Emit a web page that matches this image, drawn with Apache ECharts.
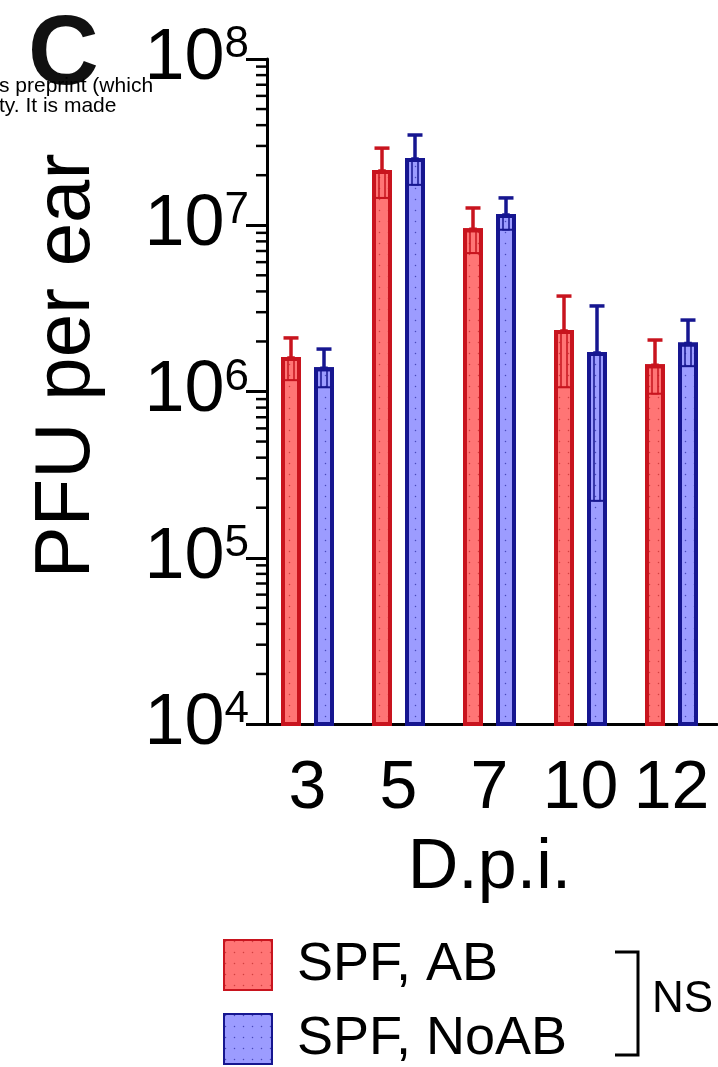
<!DOCTYPE html>
<html><head><meta charset="utf-8">
<script src="https://cdn.jsdelivr.net/npm/echarts@6/dist/echarts.min.js"></script>
<style>html,body{margin:0;padding:0;background:#fff}#c{width:718px;height:1067px}</style>
</head><body><div id="c"></div>
<script>
// ---- data ----
const categories = ['3', '5', '7', '10', '12'];
const seriesNames = ['SPF, AB', 'SPF, NoAB'];
const abMean  = [1.61e6, 2.15e7, 9.6e6, 2.34e6, 1.46e6];
const abUpper = [2.10e6, 2.91e7, 1.27e7, 3.75e6, 2.04e6];
const abLower = [1.17e6, 1.46e7, 6.8e6, 1.06e6, 9.7e5];
const noabMean  = [1.40e6, 2.54e7, 1.17e7, 1.73e6, 1.97e6];
const noabUpper = [1.80e6, 3.49e7, 1.46e7, 3.27e6, 2.69e6];
const noabLower = [1.06e6, 1.75e7, 9.4e6, 2.2e5, 1.42e6];
const yMin = 1e4, yMax = 1e8;
const minorMantissas = [2, 3, 4, 5, 6, 7, 8, 9];
const minorDecades = [1e4, 1e5, 1e6, 1e7];
const xAxisTitle = 'D.p.i.';
const yAxisTitle = 'PFU per ear';
const panelLetter = 'C';
const watermarkLines = ['s preprint (which', 'ty. It is made'];
const sigLabel = 'NS';

// ---- style ----
const FONT = "'Liberation Sans', Arial, Helvetica, sans-serif";
const RED = '#c8141e', RED_FILL = '#ff7575';
const BLUE = '#161690', BLUE_FILL = '#9c9cff';
const BAR_W = 20, BAR_GAP = '65%';
const OFF = 16.5;

const minorTickValues = [];
minorDecades.forEach(d => minorMantissas.forEach(m => minorTickValues.push(m * d)));

function errRender(offset, color) {
  return function (params, api) {
    const i = api.value(0);
    const top = api.coord([i, api.value(1)]);
    const lo = api.coord([i, api.value(2)]);
    const up = api.coord([i, api.value(3)]);
    const cx = top[0] + offset;
    return {
      type: 'group',
      children: [
        { type: 'rect', shape: { x: cx - 3, y: top[1], width: 6, height: lo[1] - top[1] },
          style: { fill: null, stroke: color, lineWidth: 1.5 } },
        { type: 'line', shape: { x1: cx - 10, y1: lo[1], x2: cx + 10, y2: lo[1] },
          style: { stroke: color, lineWidth: 2 } },
        { type: 'line', shape: { x1: cx, y1: up[1], x2: cx, y2: top[1] },
          style: { stroke: color, lineWidth: 3.5 } },
        { type: 'line', shape: { x1: cx - 7.5, y1: up[1], x2: cx + 7.5, y2: up[1] },
          style: { stroke: color, lineWidth: 3.5 } }
      ]
    };
  };
}

const chart = echarts.init(document.getElementById('c'), null, { renderer: 'canvas' });
const option = {
  backgroundColor: '#fff',
  animation: false,
  textStyle: { fontFamily: FONT },
  grid: { left: 262, right: 1, top: 59, bottom: 343, containLabel: false },
  legend: {
    data: seriesNames,
    orient: 'vertical',
    left: 223, top: 938,
    padding: 0,
    icon: 'rect',
    itemWidth: 48, itemHeight: 50, itemGap: 20,
    textStyle: { fontSize: 54, color: '#000', fontFamily: FONT, padding: [0, 0, 0, 20] },
    selectedMode: false
  },
  xAxis: {
    type: 'category',
    data: categories,
    axisLine: { lineStyle: { color: '#000', width: 3 } },
    axisTick: { alignWithLabel: true, length: 8, lineStyle: { color: '#000', width: 3 } },
    axisLabel: { interval: 0, hideOverlap: false, fontSize: 68, lineHeight: 68, color: '#000', margin: 31, fontFamily: FONT },
    name: xAxisTitle,
    nameLocation: 'middle',
    nameGap: 110,
    nameTextStyle: { fontSize: 70, lineHeight: 70, color: '#000', fontFamily: FONT }
  },
  yAxis: {
    type: 'log',
    logBase: 10,
    min: yMin, max: yMax,
    offset: -5,
    splitLine: { show: false },
    axisLine: { show: true, lineStyle: { color: '#000', width: 3 } },
    axisTick: { show: true, length: 21, lineStyle: { color: '#000', width: 3 } },
    axisLabel: {
      margin: 18,
      formatter: v => '{b|10}{s|' + Math.round(Math.log10(v)) + '}',
      rich: {
        b: { fontSize: 72, lineHeight: 72, color: '#000', fontFamily: FONT },
        s: { fontSize: 44, lineHeight: 44, color: '#000', verticalAlign: 'top', fontFamily: FONT }
      }
    }
  },
  graphic: [
    { type: 'text', left: 28, top: 8, z: 1,
      style: { text: panelLetter, font: 'bold 98px ' + FONT, fill: '#111' } },
    { type: 'text', x: -1, y: 86, z: 2,
      style: { text: watermarkLines[0], font: '21px ' + FONT, fill: '#000', textVerticalAlign: 'middle' } },
    { type: 'text', x: -1, y: 106, z: 2,
      style: { text: watermarkLines[1], font: '21px ' + FONT, fill: '#000', textVerticalAlign: 'middle' } },
    { type: 'text', x: 67, y: 366, rotation: Math.PI / 2,
      style: { text: yAxisTitle, font: '78px ' + FONT, fill: '#000', textAlign: 'center', textVerticalAlign: 'middle' } },
    { type: 'polyline', shape: { points: [[615, 952], [638, 952], [638, 1055], [615, 1055]] },
      style: { stroke: '#000', lineWidth: 3, fill: null } },
    { type: 'text', x: 652, y: 1000,
      style: { text: sigLabel, font: '44px ' + FONT, fill: '#000', textVerticalAlign: 'middle' } }
  ],
  series: [
    {
      name: seriesNames[0], type: 'bar', data: abMean,
      barWidth: BAR_W, barGap: BAR_GAP,
      itemStyle: {
        color: RED_FILL, borderColor: RED, borderWidth: 4,
        decal: { symbol: 'circle', symbolSize: 0.5, dashArrayX: [3, 6], dashArrayY: [3, 8], color: 'rgba(170,20,20,0.55)' }
      },
      z: 2
    },
    {
      name: seriesNames[1], type: 'bar', data: noabMean,
      barWidth: BAR_W, barGap: BAR_GAP,
      itemStyle: {
        color: BLUE_FILL, borderColor: BLUE, borderWidth: 4,
        decal: { symbol: 'circle', symbolSize: 0.5, dashArrayX: [3, 6], dashArrayY: [3, 8], color: 'rgba(20,20,140,0.6)' }
      },
      z: 2
    },
    {
      name: 'errAB', type: 'custom', z: 5, silent: true,
      data: categories.map((c, i) => [i, abMean[i], abLower[i], abUpper[i]]),
      renderItem: errRender(-OFF, RED)
    },
    {
      name: 'errNoAB', type: 'custom', z: 5, silent: true,
      data: categories.map((c, i) => [i, noabMean[i], noabLower[i], noabUpper[i]]),
      renderItem: errRender(OFF, BLUE)
    },
    {
      name: 'minorTicks', type: 'custom', z: 5, silent: true, clip: false,
      data: minorTickValues.map(v => [0, v]),
      renderItem: function (params, api) {
        const y = api.coord([0, api.value(1)])[1];
        const x0 = params.coordSys.x + 5;
        return { type: 'line', shape: { x1: x0 - 11, y1: y, x2: x0, y2: y },
                 style: { stroke: '#000', lineWidth: 2.5 } };
      }
    }
  ]
};
chart.setOption(option);
</script>
</body></html>
